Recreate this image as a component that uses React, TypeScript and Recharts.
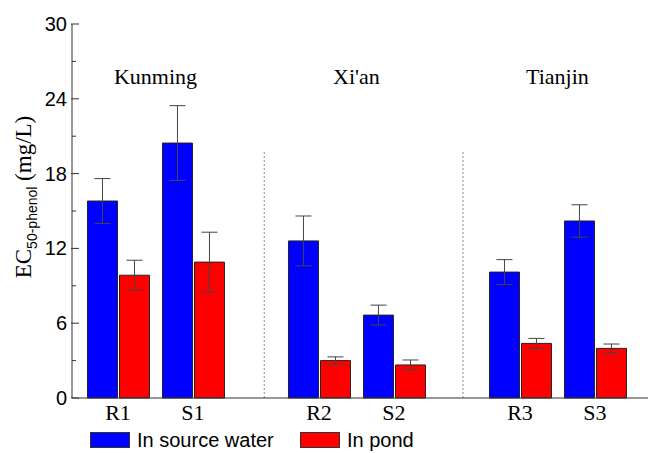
import { Bar, BarChart, ErrorBar, Legend, ReferenceDot, ReferenceLine, XAxis, YAxis } from "recharts";

const sites = ["R1", "S1", "R2", "S2", "R3", "S3"];
const cities = ["Kunming", "Xi'an", "Tianjin"];
const sourceWater = [15.8, 20.45, 12.6, 6.65, 10.1, 14.2];
const sourceWaterErr = [1.8, 3.0, 2.0, 0.8, 1.0, 1.3];
const pond = [9.85, 10.9, 3.0, 2.65, 4.38, 3.98];
const pondErr = [1.2, 2.4, 0.3, 0.4, 0.4, 0.35];
const yTicks = [0, 3, 6, 9, 12, 15, 18, 21, 24, 27, 30];
const seriesOrder = ["source", "pond"];

// layout: extra space between the city groups, in x units
const GROUP_GAP = 0.68;
const posOf = (i: number) => i + Math.floor(i / 2) * GROUP_GAP;

const daten = sites.map((site, i) => ({
  site,
  pos: posOf(i),
  source: sourceWater[i],
  sourceErr: sourceWaterErr[i],
  pond: pond[i],
  pondErr: pondErr[i],
}));

const serif = "Liberation Serif";
const sans = "Liberation Sans";

function YTick({ x, y, payload }: any) {
  const axisX = x + 6;
  const major = payload.value % 6 === 0;
  return (
    <g>
      <line x1={major ? axisX - 1 : axisX} x2={axisX + (major ? 7 : 4)} y1={y} y2={y} stroke="#333" />
      {major && (
        <text x={axisX - 5} y={y + 7} textAnchor="end" fontFamily={sans} fontSize={20} fill="#000">
          {payload.value}
        </text>
      )}
    </g>
  );
}

function XTick({ x, y, payload }: any) {
  const i = daten.findIndex((d) => Math.abs(d.pos - payload.value) < 1e-6);
  return (
    <text x={x} y={y + 22} textAnchor="middle" fontFamily={serif} fontSize={22} fill="#000">
      {i >= 0 ? sites[i] : ""}
    </text>
  );
}

function YLabel() {
  const cx = 31;
  const cy = 197;
  return (
    <text transform={`rotate(-90, ${cx}, ${cy})`} x={cx} y={cy} textAnchor="middle" fontFamily={serif} fontSize={23} fill="#000">
      EC
      <tspan fontFamily={sans} fontSize={14} dy={6}>50-phenol</tspan>
      <tspan dy={-6}> (mg/L)</tspan>
    </text>
  );
}

function LegendBoxes({ payload }: any) {
  const items = [...(payload || [])].sort(
    (a: any, b: any) => seriesOrder.indexOf(a.dataKey) - seriesOrder.indexOf(b.dataKey)
  );
  return (
    <div style={{ position: "relative", width: 300, height: 20 }}>
      {items.map((p: any, i: number) => (
        <div
          key={p.value}
          style={{ position: "absolute", left: i * 210, top: 0, height: 20, display: "flex", alignItems: "center", whiteSpace: "nowrap" }}
        >
          <div style={{ width: 38, height: 14, background: p.color, border: "1px solid #333" }} />
          <span style={{ marginLeft: 7, fontFamily: sans, fontSize: 20, color: "#000", lineHeight: "20px" }}>{p.value}</span>
        </div>
      ))}
    </div>
  );
}

export default function App() {
  return (
    <div style={{ position: "absolute", left: 0, top: 0, background: "#fff" }}>
      <BarChart width={648} height={453} data={daten} margin={{ top: 24, right: 0, bottom: 0, left: 0 }} barSize={30} barGap={2}>
        <XAxis
          dataKey="pos"
          type="number"
          domain={[-0.613, 7.067]}
          allowDataOverflow
          ticks={daten.map((d) => d.pos)}
          interval={0}
          tick={<XTick />}
          tickLine={false}
          tickSize={0}
          tickMargin={0}
          height={55}
          axisLine={{ stroke: "#333" }}
        />
        <YAxis
          domain={[0, 30]}
          ticks={yTicks}
          interval={0}
          width={72}
          tick={<YTick />}
          tickLine={false}
          tickSize={0}
          tickMargin={6}
          axisLine={{ stroke: "#333" }}
          label={{ content: <YLabel /> }}
        />
        <ReferenceLine segment={[{ x: 1.95, y: 0 }, { x: 1.95, y: 19.8 }]} stroke="#888" strokeDasharray="2 2" />
        <ReferenceLine segment={[{ x: 4.6, y: 0 }, { x: 4.6, y: 19.8 }]} stroke="#888" strokeDasharray="2 2" />
        {cities.map((city, g) => (
          <ReferenceDot
            key={city}
            x={(posOf(2 * g) + posOf(2 * g + 1)) / 2}
            y={25.8}
            r={0}
            stroke="none"
            fill="none"
            label={{ value: city, position: "center", fontFamily: serif, fontSize: 22, fill: "#000" }}
          />
        ))}
        <Bar dataKey="source" name="In source water" fill="#0000ff" stroke="#222" strokeWidth={1} isAnimationActive={false}>
          <ErrorBar dataKey="sourceErr" width={8} stroke="#444" strokeWidth={1} direction="y" />
        </Bar>
        <Bar dataKey="pond" name="In pond" fill="#ff0000" stroke="#222" strokeWidth={1} isAnimationActive={false}>
          <ErrorBar dataKey="pondErr" width={8} stroke="#444" strokeWidth={1} direction="y" />
        </Bar>
        <Legend
          layout="horizontal"
          verticalAlign="middle"
          align="center"
          content={<LegendBoxes />}
          wrapperStyle={{ left: 90, top: 430, width: 320, height: 20 }}
        />
      </BarChart>
    </div>
  );
}
